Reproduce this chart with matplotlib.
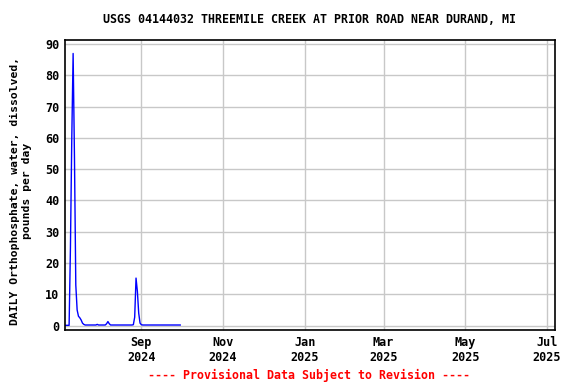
import matplotlib
matplotlib.use("Agg")
import matplotlib.pyplot as plt
import pandas as pd

title = "USGS 04144032 THREEMILE CREEK AT PRIOR ROAD NEAR DURAND, MI"
ylabel = "DAILY Orthophosphate, water, dissolved,\npounds per day"
footer = "---- Provisional Data Subject to Revision ----"

start_date = "2024-07-06"
values = [
    0.1, 0.1, 0.1, 0.1, 25.0, 60.0, 87.0, 54.0, 13.0, 5.0,   # Jul 6-15
    3.0, 2.5, 1.8, 0.8, 0.4, 0.2, 0.2, 0.2, 0.2, 0.2,        # Jul 16-25
    0.2, 0.2, 0.2, 0.2, 0.4, 0.2, 0.2, 0.2, 0.2, 0.2,        # Jul 26-Aug 4
    0.2, 0.6, 1.3, 0.6, 0.2, 0.2, 0.2, 0.2, 0.2, 0.2,        # Aug 5-14
    0.2, 0.2, 0.2, 0.2, 0.2, 0.2, 0.2, 0.2, 0.2,             # Aug 15-23
    0.2, 0.2, 0.3, 2.7, 15.2, 11.0, 4.0, 0.8, 0.3, 0.2,      # Aug 24 - Sep 2
    0.2, 0.2, 0.2, 0.2, 0.2, 0.2, 0.2, 0.2, 0.2, 0.2,        # Sep 3-12
    0.2, 0.2, 0.2, 0.2, 0.2, 0.2, 0.2, 0.2, 0.2, 0.2,        # Sep 13-22
    0.2, 0.2, 0.2, 0.2, 0.2, 0.2, 0.2, 0.2,                  # Sep 23-30
]
dates = pd.date_range(start_date, periods=len(values), freq="D")

xlim = ("2024-07-06", "2025-07-07")
ylim = (-1.4, 91.3)
yticks = list(range(0, 100, 10))
xtick_dates = ["2024-09-01", "2024-11-01", "2025-01-01", "2025-03-01", "2025-05-01", "2025-07-01"]
xtick_labels = ["Sep\n2024", "Nov\n2024", "Jan\n2025", "Mar\n2025", "May\n2025", "Jul\n2025"]

plt.rcParams['font.family'] = ['DejaVu Sans Mono']
plt.rcParams['font.weight'] = 'bold'

fig = plt.figure(figsize=(5.76, 3.84), dpi=100)
ax = fig.add_axes([0.113, 0.1406, 0.8505, 0.7552])
ax.plot(dates, values, color="#0000ff", lw=1.0)
ax.set_xlim(pd.Timestamp(xlim[0]), pd.Timestamp(xlim[1]))
ax.set_ylim(*ylim)
ax.set_yticks(yticks)
ax.set_xticks([pd.Timestamp(d) for d in xtick_dates])
ax.set_xticklabels(xtick_labels)
ax.grid(True, color="#c8c8c8", lw=1.0)
ax.set_axisbelow(True)
for s in ax.spines.values():
    s.set_linewidth(1.2)
    s.set_color("black")
ax.tick_params(axis='both', labelsize=8.5, length=3, direction='in', pad=4, width=0.8, color="#c8c8c8")
for lab in ax.get_xticklabels() + ax.get_yticklabels():
    lab.set_fontweight('bold')
ax.set_ylabel(ylabel, fontsize=8.2, fontweight='bold', labelpad=6)
ax.yaxis.set_label_coords(-0.068, 0.48)
fig.text(0.538, 0.948, title, ha='center', va='center', fontsize=8.4, fontweight='bold')
fig.text(0.537, 0.022, footer, ha='center', va='center', fontsize=8.4, fontweight='bold', color='#ff0000')
fig.savefig("out.png", dpi=100)
